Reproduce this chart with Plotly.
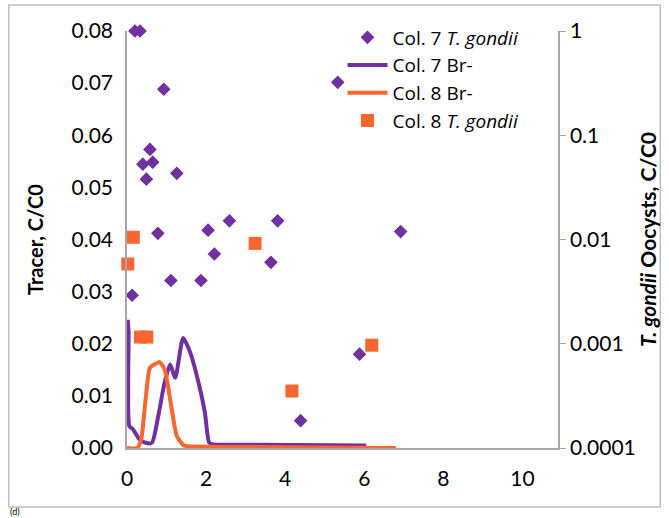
import plotly.graph_objects as go

# Col. 7 T. gondii oocysts (right, log axis)
c7_tg_x = [0.20, 0.33, 0.93, 5.33, 0.58, 0.40, 0.65, 0.49, 1.26, 0.78, 2.05, 2.59,
           3.81, 6.92, 2.21, 3.64, 1.11, 1.87, 0.13, 5.88, 4.39]
c7_tg_y = [1.0, 1.0, 0.276, 0.322, 0.0731, 0.0528, 0.0552, 0.0379, 0.0431, 0.01146,
           0.0123, 0.0151, 0.0151, 0.0119, 0.00726, 0.00604, 0.00404, 0.00404,
           0.00292, 0.000794, 0.000183]

# Col. 8 T. gondii oocysts (right, log axis)
c8_tg_x = [0.02, 0.16, 0.34, 0.50, 3.24, 6.19, 4.17]
c8_tg_y = [0.00582, 0.0105, 0.00116, 0.00116, 0.00918, 0.000968, 0.000352]

# Bromide tracer breakthrough curves (left axis)
c7_br_x = [0.02, 0.04, 0.06, 0.15, 0.31, 0.47, 0.63, 0.79, 0.95, 1.09, 1.22, 1.42,
           1.60, 1.81, 1.97, 2.08, 2.19, 3.26, 6.05]
c7_br_y = [0.0246, 0.0221, 0.0042, 0.0036, 0.0017, 0.0010, 0.0010, 0.0061, 0.0125,
           0.0160, 0.0135, 0.0211, 0.0183, 0.0125, 0.0068, 0.0010, 0.0007, 0.00064,
           0.0005]

c8_br_x = [0.0, 0.26, 0.36, 0.47, 0.58, 0.69, 0.82, 0.95, 1.12, 1.26, 1.44, 1.87, 6.8]
c8_br_y = [0.0, 0.0, 0.0017, 0.0093, 0.0154, 0.0160, 0.0165, 0.0151, 0.0080, 0.0023,
           0.0005, 0.0003, 0.0]

x_ticks = [0, 2, 4, 6, 8, 10]
y_ticks = [0.00, 0.01, 0.02, 0.03, 0.04, 0.05, 0.06, 0.07, 0.08]
y2_ticks = [0.0001, 0.001, 0.01, 0.1, 1]
y2_text = ["0.0001", "0.001", "0.01", "0.1", "1"]

PURPLE = "#7030A0"
ORANGE = "#FA6630"
AXIS = "#A6A6A6"
FONT = "Lato, 'Open Sans', sans-serif"

fig = go.Figure()
fig.add_trace(go.Scatter(
    x=c7_tg_x, y=c7_tg_y, mode="markers", name="Col. 7 <i>T. gondii</i>",
    marker=dict(symbol="diamond", size=10.5, color=PURPLE), yaxis="y2",
    cliponaxis=False))
fig.add_trace(go.Scatter(
    x=c7_br_x, y=c7_br_y, mode="lines", name="Col. 7 Br-",
    line=dict(color=PURPLE, width=4, shape="spline", smoothing=0.6)))
fig.add_trace(go.Scatter(
    x=c8_br_x, y=c8_br_y, mode="lines", name="Col. 8 Br-",
    line=dict(color=ORANGE, width=4, shape="spline", smoothing=0.6)))
fig.add_trace(go.Scatter(
    x=c8_tg_x, y=c8_tg_y, mode="markers", name="Col. 8 <i>T. gondii</i>",
    marker=dict(symbol="square", size=13, color=ORANGE), yaxis="y2",
    cliponaxis=False))

fig.update_layout(
    width=669, height=518,
    margin=dict(l=127, r=108, t=31, b=70),
    paper_bgcolor="white", plot_bgcolor="white",
    font=dict(family=FONT, size=21, color="black"),
    showlegend=True,
    legend=dict(x=0.50, y=1.03, xanchor="left", yanchor="top",
                bgcolor="rgba(0,0,0,0)",
                font=dict(family="'Open Sans', Lato, sans-serif", size=19),
                tracegroupgap=0, itemwidth=40),
    xaxis=dict(range=[0, 10.9], tickvals=x_ticks, ticktext=[str(v) for v in x_ticks],
               showgrid=False, zeroline=False, showline=True, linecolor=AXIS,
               linewidth=1.5, ticks="", ticklabelstandoff=11),
    yaxis=dict(range=[0, 0.08], tickvals=y_ticks,
               ticktext=["%.2f" % v for v in y_ticks],
               showgrid=False, zeroline=False, showline=True, linecolor=AXIS,
               linewidth=1.5, ticks="", ticklabelstandoff=8,
               title=dict(text="<b>Tracer, C/C0</b>", font=dict(size=20), standoff=23)),
    yaxis2=dict(type="log", range=[-4, 0], overlaying="y", side="right",
                tickvals=y2_ticks, ticktext=y2_text,
                showgrid=False, zeroline=False, showline=True, linecolor=AXIS,
                linewidth=1.5, ticks="outside", ticklen=6, tickcolor=AXIS,
                title=dict(text="<b><i>T. gondii</i> Oocysts, C/C0</b>",
                           font=dict(size=21), standoff=6)),
    shapes=[dict(type="rect", xref="paper", yref="paper",
                 x0=-119 / 434, x1=537 / 434, y0=-59 / 417, y1=443 / 417,
                 line=dict(color="#BFBFBF", width=1.5), fillcolor="rgba(0,0,0,0)")],
    annotations=[dict(text="(d)", xref="paper", yref="paper", x=-119 / 434,
                      y=-70 / 417, xanchor="left", yanchor="bottom", showarrow=False,
                      borderpad=0, font=dict(size=9))],
)

fig.write_html("out.html")
